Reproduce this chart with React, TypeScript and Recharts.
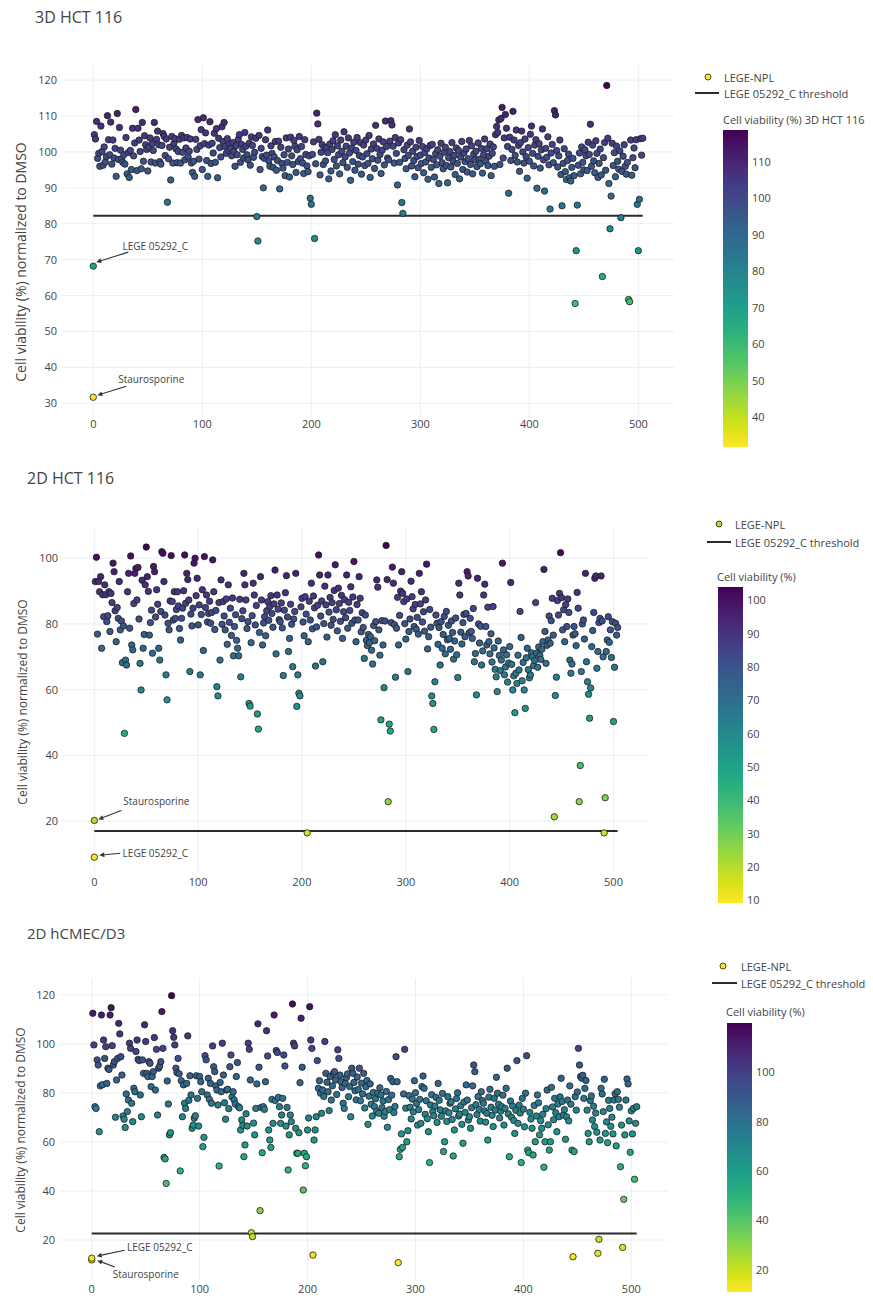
import React from 'react';
import { ScatterChart, Scatter, XAxis, YAxis, CartesianGrid, ReferenceLine, ReferenceDot } from 'recharts';

const FONT = '"Open Sans", "Noto Sans", sans-serif';
const TEXT = '#444';
const GRID = '#e9eef6';

const xTicks = [0, 100, 200, 300, 400, 500];
const yTicks3D = [30, 40, 50, 60, 70, 80, 90, 100, 110, 120];
const yTicks2D = [20, 40, 60, 80, 100];
const yTicksHC = [20, 40, 60, 80, 100, 120];
const cbTicks3D = [40, 50, 60, 70, 80, 90, 100, 110];
const cbTicks2D = [10, 20, 30, 40, 50, 60, 70, 80, 90, 100];
const cbTicksHC = [20, 40, 60, 80, 100];

// controls at compound index 0: [Staurosporine, LEGE 05292_C]
const controls3D = [31.7, 68.2];
const controls2D = [20.2, 9.0];
const controlsHC = [11.9, 12.6];

const threshold3D = 82.2;
const threshold2D = 17.0;
const thresholdHC = 22.7;

// compound values, x = 1..n
const viab3D = [
104.8,103.6,108.5,98.2,99.6,96.0,107.2,100.1,96.3,101.4,
97.2,98.7,110.1,103.4,99.2,108.3,96.6,103.3,98.3,101.0,
93.2,110.7,97.9,106.8,100.5,98.1,97.1,99.2,96.6,104.0,
93.9,99.8,92.9,100.4,95.1,106.6,98.9,102.5,111.8,94.8,
106.6,103.3,100.1,95.3,108.2,97.4,104.5,102.0,100.7,94.7,
101.3,103.9,97.2,102.3,100.4,108.2,96.9,103.5,105.8,102.0,
97.3,96.6,101.8,105.1,104.3,99.0,103.6,86.0,98.1,101.3,
92.2,104.3,96.9,102.4,103.7,100.8,97.0,100.1,103.5,96.9,
104.6,99.9,103.9,97.8,101.1,104.0,98.6,100.2,103.6,96.9,
94.3,97.4,93.2,103.5,100.7,109.0,98.0,101.7,106.2,95.1,
109.5,102.3,105.3,97.6,93.2,101.9,108.4,96.8,102.4,99.7,
105.2,97.1,106.5,92.8,103.8,101.2,98.6,107.0,102.9,108.2,
101.5,99.6,103.7,100.4,102.2,101.0,98.9,102.6,100.1,96.0,
101.7,99.2,103.5,104.8,97.1,102.1,100.7,98.3,105.4,101.6,
99.2,97.8,102.4,96.3,104.2,101.8,98.5,99.9,103.8,82.0,
75.2,104.6,95.1,101.0,98.7,90.0,98.2,103.4,99.1,106.1,
97.5,96.0,101.7,99.6,95.7,98.6,102.9,94.9,97.6,103.0,
89.7,101.3,96.8,95.5,99.2,93.4,103.9,97.1,100.8,93.0,
104.1,98.9,96.5,103.2,101.6,94.3,100.6,97.3,104.3,98.1,
101.5,96.9,94.0,103.4,99.3,96.1,94.5,98.9,87.1,85.4,
99.3,102.8,75.9,96.7,110.8,107.8,103.5,93.6,99.9,102.0,
96.5,101.3,97.5,101.1,99.8,92.5,102.2,94.7,100.7,103.1,
97.9,104.8,96.1,101.7,99.2,93.9,103.3,100.2,97.0,105.6,
98.6,101.6,95.7,103.9,99.7,92.1,101.1,97.3,102.7,94.9,
100.4,104.0,96.6,99.0,102.6,93.8,98.6,101.9,96.2,103.3,
99.5,96.8,104.6,92.9,100.8,98.1,102.2,95.4,107.4,101.0,
97.7,103.6,99.3,94.0,100.5,102.8,96.4,108.6,101.5,98.3,
97.8,103.0,108.7,107.5,101.6,96.9,104.0,99.6,90.8,102.5,
97.1,103.4,85.9,82.9,100.6,98.2,95.3,101.9,99.0,106.4,
102.8,96.1,100.2,97.6,93.1,101.3,98.7,95.6,103.2,99.1,
96.8,101.5,94.2,99.8,97.2,100.9,92.4,98.3,101.8,95.7,
102.1,97.9,93.0,99.5,96.4,100.6,91.2,98.8,102.4,97.0,
95.3,99.9,101.3,96.2,91.4,98.4,100.1,95.8,102.6,97.5,
99.0,93.7,101.1,96.8,100.4,92.5,98.6,102.9,95.1,99.7,
97.3,100.8,94.4,98.1,103.2,96.5,101.7,93.9,99.4,97.8,
100.2,95.9,102.5,98.0,96.7,101.0,94.1,99.2,103.6,97.4,
100.9,96.2,98.8,102.2,93.4,99.6,101.4,96.0,104.8,107.1,
105.4,108.9,96.5,109.3,112.4,98.3,103.9,110.4,106.6,101.5,
88.5,104.1,97.6,100.7,111.3,103.3,99.0,106.1,97.2,101.8,
94.6,102.6,105.8,100.0,96.9,103.6,98.7,92.7,101.2,97.4,
104.9,107.2,99.6,96.1,101.9,103.4,89.9,98.8,102.3,95.5,
100.6,106.4,97.8,89.1,101.0,98.5,104.2,96.4,84.1,99.7,
102.1,97.0,111.5,110.3,100.4,95.8,98.9,103.3,93.7,85.0,
96.8,100.9,94.5,92.3,97.6,99.4,92.8,91.9,95.7,98.2,
93.4,57.8,72.5,85.2,96.3,99.7,93.9,101.4,97.1,95.0,
100.6,98.9,94.8,102.7,99.3,107.7,96.0,101.9,97.5,94.2,
103.1,99.6,92.9,96.8,100.8,93.6,65.3,98.4,102.6,94.9,
118.5,103.8,91.2,78.6,87.7,102.4,96.2,99.8,93.1,101.6,
97.4,95.2,100.3,81.7,94.6,98.8,102.0,96.0,93.8,97.1,
58.9,58.3,103.3,93.5,98.4,101.1,95.6,103.4,85.4,72.5,
86.8,103.7,99.1,103.8,
];

const viab2D = [
92.9,100.3,76.9,92.9,89.8,94.4,72.6,88.9,82.2,91.9,
88.9,80.7,82.5,89.8,77.7,89.3,86.5,98.5,95.9,84.0,
74.6,85.0,81.7,92.9,78.2,80.9,68.2,79.4,46.7,69.0,
67.5,89.8,95.4,78.7,100.7,73.6,72.1,86.2,95.4,96.9,
87.3,97.2,81.5,68.0,59.9,93.3,72.6,76.8,91.9,103.4,
94.4,89.9,76.6,80.4,84.2,71.1,97.5,95.9,82.1,90.4,
86.0,72.6,69.0,83.8,102.0,101.5,92.9,82.7,64.5,56.9,
80.2,78.2,87.0,100.8,86.8,81.2,89.8,81.7,84.4,89.8,
85.5,78.6,75.1,81.7,84.8,90.1,101.0,86.3,95.4,93.5,
87.3,65.5,83.0,79.4,84.8,98.5,100.0,88.6,93.9,79.7,
85.8,64.5,82.9,90.4,71.9,100.5,85.0,88.8,80.6,83.2,
86.9,80.2,83.5,99.5,89.8,78.3,84.1,60.9,58.1,86.5,
69.0,93.4,79.9,86.8,82.4,78.2,87.6,73.8,91.9,80.5,
84.8,76.5,87.9,70.3,79.2,82.8,75.0,72.6,70.3,87.5,
63.9,81.6,84.0,95.4,91.9,87.3,78.6,80.7,55.8,55.0,
74.3,82.5,92.4,88.8,79.7,85.6,52.6,48.0,77.4,94.4,
87.3,73.6,80.3,82.2,76.4,84.0,86.8,81.1,85.3,88.6,
83.2,79.0,86.1,96.4,70.9,88.8,84.5,81.3,80.7,86.4,
78.8,64.3,84.2,89.5,94.7,82.1,71.6,75.6,86.0,79.9,
67.0,81.5,83.8,95.4,54.9,64.5,58.9,58.1,85.2,87.8,
80.6,76.4,88.3,83.0,16.4,74.6,86.9,81.2,92.4,78.5,
88.5,84.9,67.2,79.1,85.7,101.0,94.9,82.4,87.0,68.5,
80.1,91.5,85.8,76.0,94.9,83.6,88.1,79.6,86.5,81.4,
90.2,98.0,84.3,77.9,90.9,86.2,80.8,88.7,75.6,83.7,
87.4,81.9,94.9,78.7,86.6,84.1,91.3,80.2,88.2,99.0,
81.2,74.6,85.9,81.2,94.4,87.8,77.6,83.4,78.9,69.5,
82.7,75.0,73.4,76.8,74.3,76.1,72.0,67.8,79.5,74.9,
80.7,93.4,91.2,78.2,70.5,50.8,81.0,73.6,60.6,80.9,
103.9,93.5,25.9,49.5,47.4,80.4,97.3,92.4,79.8,63.8,
78.7,88.1,73.6,82.6,90.0,95.9,89.3,86.8,80.1,75.4,
87.6,65.5,77.7,81.5,93.0,88.3,84.6,79.2,85.9,78.4,
82.0,76.9,95.4,86.1,89.8,80.6,83.7,77.8,87.3,98.2,
72.4,76.1,84.4,79.0,58.1,55.8,47.9,62.4,82.7,80.2,
73.8,78.9,67.5,80.7,72.6,76.8,82.3,70.9,83.8,75.2,
79.6,75.6,72.3,80.9,77.4,69.3,74.8,81.8,70.6,63.7,
92.4,88.8,77.5,73.9,80.4,82.9,76.1,83.2,95.9,94.6,
77.3,81.7,77.7,75.6,84.7,68.5,71.0,58.4,93.9,80.0,
74.2,79.3,67.5,71.8,88.8,92.1,79.2,73.6,85.1,74.6,
70.9,77.0,68.4,85.3,72.7,66.2,63.9,59.4,74.8,70.4,
65.8,69.0,98.5,72.1,64.5,66.9,70.6,62.3,68.1,73.1,
92.6,67.7,59.9,64.2,53.0,65.0,61.9,70.5,66.0,83.8,
75.9,62.7,68.3,59.9,54.3,69.7,72.6,66.1,63.6,64.5,
71.2,70.0,67.3,68.9,86.5,71.1,66.8,73.0,70.4,69.2,
72.3,74.6,96.6,77.7,68.0,73.5,75.1,82.4,74.1,81.0,
87.8,76.6,21.3,58.2,63.8,87.1,82.7,89.3,101.7,88.0,
78.2,84.3,74.6,85.9,79.2,87.6,83.5,69.0,65.0,67.8,
76.6,79.2,77.0,73.4,89.6,84.8,25.9,36.9,65.5,80.0,
81.2,75.4,95.4,68.5,62.4,58.6,51.3,60.5,73.1,78.0,
83.5,93.9,94.6,66.5,71.6,80.4,81.7,94.6,80.9,70.0,
16.4,27.1,71.6,75.1,82.2,74.4,78.2,69.8,80.7,50.3,
66.8,80.2,76.6,78.9,
];

const viabHC = [
112.5,99.6,74.4,73.7,93.5,91.4,64.2,82.9,111.8,83.4,
101.6,94.1,98.9,83.9,90.1,89.6,111.8,114.8,99.3,91.4,
92.8,70.1,85.3,94.1,108.4,104.1,94.8,87.3,70.6,69.3,
65.9,79.6,72.4,77.1,100.3,98.2,75.8,68.3,81.9,80.5,
96.9,101.6,93.7,93.2,79.2,70.3,93.5,88.0,107.8,101.0,
88.0,86.7,92.8,92.1,82.6,86.7,88.7,102.6,81.2,97.8,
71.0,90.1,91.0,92.8,113.2,98.2,53.7,53.1,43.1,84.9,
75.5,62.9,63.8,119.7,105.4,102.7,99.6,90.1,88.3,94.1,
87.8,48.2,85.0,70.3,83.3,75.8,73.7,83.9,103.3,77.0,
87.0,79.2,65.6,66.9,69.7,70.7,87.0,77.8,66.5,86.7,
84.6,80.5,58.1,61.9,95.2,93.5,79.2,86.0,77.4,83.9,
75.8,99.2,90.7,88.7,82.9,81.2,75.1,50.2,84.3,80.5,
100.3,87.3,76.0,69.3,81.2,81.5,73.6,90.7,95.5,78.4,
80.5,77.1,75.5,86.7,92.4,74.4,73.9,64.9,69.0,66.8,
54.0,58.8,71.5,66.5,100.3,97.8,85.3,23.0,21.4,67.7,
62.9,73.7,83.7,108.2,90.5,32.0,74.1,55.6,74.4,73.3,
84.6,105.4,95.1,64.9,60.8,57.8,77.4,67.6,111.8,76.9,
97.3,96.5,78.2,74.4,67.6,71.0,77.8,95.5,91.0,66.5,
74.1,48.6,62.9,71.0,68.3,116.3,100.3,99.2,65.6,55.4,
55.4,63.8,84.2,110.5,90.5,40.4,55.4,50.3,54.0,64.9,
69.8,115.2,101.6,98.2,13.9,60.8,64.9,70.3,93.2,81.9,
85.0,79.9,71.7,81.2,78.6,101.0,88.0,84.4,80.5,72.8,
86.7,77.1,82.9,88.0,88.7,85.3,79.4,97.6,94.1,87.3,
84.6,82.2,75.8,73.7,83.9,86.3,87.8,78.5,82.6,70.3,
90.1,88.0,84.3,80.9,77.2,86.5,81.4,90.1,76.8,84.0,
79.6,88.0,73.9,82.5,85.1,67.2,78.7,83.7,75.4,70.6,
80.2,74.4,77.6,72.5,79.9,71.7,82.1,79.2,74.0,76.7,
70.5,72.4,80.6,66.0,77.3,73.2,85.9,79.1,84.6,72.0,
74.5,94.8,84.6,10.8,54.0,57.0,63.3,57.8,79.6,97.8,
73.8,60.1,64.6,78.9,74.2,69.4,77.5,72.3,85.0,80.1,
75.7,66.9,73.2,77.4,67.6,82.6,86.9,81.9,71.3,76.8,
69.5,64.2,51.6,75.1,79.3,72.4,70.7,74.6,78.2,68.0,
83.9,77.0,73.1,70.5,79.8,56.1,60.1,72.7,68.4,78.5,
71.9,75.8,76.4,69.2,54.3,64.9,73.5,77.7,80.1,70.6,
71.4,74.8,67.2,59.5,76.3,72.1,83.3,77.1,69.0,70.3,
65.6,74.0,82.9,91.4,88.7,75.2,71.2,78.5,73.3,68.5,
80.5,76.9,75.8,72.7,68.1,71.7,60.8,78.3,81.5,74.2,
70.9,66.3,77.8,73.0,86.4,79.9,75.4,69.8,72.6,74.4,
79.1,66.9,73.7,81.9,90.1,71.5,54.0,76.7,70.1,74.7,
68.8,63.5,72.9,93.2,67.6,75.0,71.8,51.6,77.8,73.4,
66.2,79.9,95.2,56.7,55.6,72.1,69.4,65.6,54.7,74.9,
60.1,70.6,79.2,76.0,62.9,68.7,65.6,71.3,49.7,60.1,
73.6,81.2,67.0,56.7,60.1,82.3,74.3,69.1,77.8,71.9,
64.2,75.5,70.3,78.4,86.0,76.5,71.0,73.2,61.1,70.3,
77.1,68.6,82.9,75.4,56.7,13.2,56.1,78.5,73.0,80.4,
98.2,91.4,86.7,86.0,87.2,77.8,81.9,85.1,73.0,63.5,
60.1,76.9,78.8,69.0,74.6,66.3,71.8,64.0,14.6,20.3,
60.8,81.9,79.6,72.4,85.6,63.5,68.2,59.7,77.0,73.7,
66.4,70.1,63.3,77.1,79.7,58.4,80.5,77.4,74.2,49.9,
66.9,17.0,36.6,62.9,77.1,85.7,83.7,68.6,55.8,72.7,
63.3,73.7,44.8,67.6,74.4,
];

const VIRIDIS = ['#440154', '#48186a', '#472d7b', '#424086', '#3b528b', '#33638d', '#2c728e', '#26828e', '#21918c', '#1fa088', '#28ae80', '#3fbc73', '#5ec962', '#84d44b', '#addc30', '#d8e219', '#fde725'];

function hexToRgb(h: string) {
  return [parseInt(h.slice(1, 3), 16), parseInt(h.slice(3, 5), 16), parseInt(h.slice(5, 7), 16)];
}
function viridisAt(t: number) {
  const c = Math.max(0, Math.min(1, t));
  const pos = c * (VIRIDIS.length - 1);
  const i = Math.min(VIRIDIS.length - 2, Math.floor(pos));
  const f = pos - i;
  const a = hexToRgb(VIRIDIS[i]);
  const b = hexToRgb(VIRIDIS[i + 1]);
  const m = a.map((v, k) => Math.round(v + (b[k] - v) * f));
  return `rgb(${m[0]},${m[1]},${m[2]})`;
}

type Ann = { y: number; label: string; tail: [number, number]; tip: [number, number]; text: [number, number] };

type PanelCfg = {
  svgTop: number;
  height: number;
  plotLeft: number;
  plotRight: number;
  plotTop: number;
  plotBottom: number;
  xDomain: [number, number];
  yDomain: [number, number];
  yTicks: number[];
  values: number[];
  controls: number[];
  threshold: number;
  thrEnd: number;
  anns: Ann[];
  tickTop: number;
};

const SVG_W = 690;

function buildPoints(controls: number[], values: number[]) {
  return controls.map((y) => ({ x: 0, y })).concat(values.map((y, i) => ({ x: i + 1, y })));
}

function rangeOf(cfg: { controls: number[]; values: number[] }) {
  const all = cfg.controls.concat(cfg.values);
  return [Math.min(...all), Math.max(...all)];
}

const makeAnnShape = (a: Ann) => (props: any) => {
  const { cx, cy } = props;
  if (cx == null || cy == null) return <g />;
  const tx = cx + a.tail[0];
  const ty = cy + a.tail[1];
  const hx = cx + a.tip[0];
  const hy = cy + a.tip[1];
  const ang = Math.atan2(hy - ty, hx - tx);
  const L = 5;
  const W = 2.4;
  const bx = hx - L * Math.cos(ang);
  const by = hy - L * Math.sin(ang);
  const p1 = `${hx},${hy}`;
  const p2 = `${bx - W * Math.sin(ang)},${by + W * Math.cos(ang)}`;
  const p3 = `${bx + W * Math.sin(ang)},${by - W * Math.cos(ang)}`;
  return (
    <g>
      <line x1={tx} y1={ty} x2={bx} y2={by} stroke="#333" strokeWidth={1.1} />
      <polygon points={`${p1} ${p2} ${p3}`} fill="#333" />
      <text x={cx + a.text[0]} y={cy + a.text[1]} textAnchor="middle" dominantBaseline="central" fontSize={10} fontFamily={FONT} fill={TEXT}>
        {a.label}
      </text>
    </g>
  );
};

function Panel({ cfg }: { cfg: PanelCfg }) {
  const pts = buildPoints(cfg.controls, cfg.values);
  const [mn, mx] = rangeOf(cfg);
  const color = (v: number) => viridisAt(1 - (v - mn) / (mx - mn));
  const pointShape = (p: any) => {
    const v = p.payload ? p.payload.y : mn;
    return <circle cx={p.cx} cy={p.cy} r={3.2} fill={color(v)} stroke="#1e1e1e" strokeWidth={0.8} />;
  };
  const top = cfg.plotTop - cfg.svgTop;
  const ph = cfg.plotBottom - cfg.plotTop;
  const pw = cfg.plotRight - cfg.plotLeft;
  const [y0, y1] = cfg.yDomain;
  const [x0, x1] = cfg.xDomain;
  const hPts = cfg.yTicks.map((t) => top + ((y1 - t) / (y1 - y0)) * ph);
  const vPts = xTicks.map((t) => cfg.plotLeft + ((t - x0) / (x1 - x0)) * pw);
  const near = (v: number, list: number[]) => list.some((q) => Math.abs(q - v) < 0.75);
  const hLine = (p: any) =>
    near(p.y1, hPts) ? <line key={p.key} x1={p.x1} y1={p.y1} x2={p.x2} y2={p.y2} stroke={GRID} strokeWidth={1} /> : <g key={p.key} />;
  const vLine = (p: any) =>
    near(p.x1, vPts) ? <line key={p.key} x1={p.x1} y1={p.y1} x2={p.x2} y2={p.y2} stroke={GRID} strokeWidth={1} /> : <g key={p.key} />;
  return (
    <div style={{ position: 'absolute', left: 0, top: cfg.svgTop }}>
      <ScatterChart
        width={SVG_W}
        height={cfg.height}
        margin={{ top, right: SVG_W - cfg.plotRight, bottom: 0, left: 0 }}
      >
        <CartesianGrid
          stroke={GRID}
          strokeWidth={1}
          horizontalPoints={hPts}
          verticalPoints={vPts}
          horizontal={hLine}
          vertical={vLine}
        />
        <XAxis
          type="number"
          dataKey="x"
          domain={cfg.xDomain}
          ticks={xTicks}
          allowDataOverflow
          axisLine={false}
          tickLine={false}
          tickSize={0}
          tickMargin={cfg.tickTop}
          height={cfg.svgTop + cfg.height - cfg.plotBottom}
          tick={{ fontSize: 11, fill: TEXT, fontFamily: FONT }}
        />
        <YAxis
          type="number"
          dataKey="y"
          domain={cfg.yDomain}
          ticks={cfg.yTicks}
          allowDataOverflow
          axisLine={false}
          tickLine={false}
          tickSize={0}
          tickMargin={5}
          width={cfg.plotLeft}
          tick={{ fontSize: 11, fill: TEXT, fontFamily: FONT }}
        />
        <ReferenceLine
          segment={[{ x: 0, y: cfg.threshold }, { x: cfg.thrEnd, y: cfg.threshold }]}
          stroke="#2b2b2b"
          strokeWidth={2}
          ifOverflow="visible"
        />
        {cfg.anns.map((a, i) => (
          <ReferenceDot key={i} x={0} y={a.y} r={0} ifOverflow="visible" shape={makeAnnShape(a)} />
        ))}
        <Scatter data={pts} isAnimationActive={false} shape={pointShape} />
      </ScatterChart>
    </div>
  );
}

const panel3D: PanelCfg = {
  svgTop: 0, height: 440, plotLeft: 62, plotRight: 674, plotTop: 65, plotBottom: 417,
  xDomain: [-28.7, 532.7], yDomain: [26.2, 124.2], yTicks: yTicks3D,
  values: viab3D, controls: controls3D, threshold: threshold3D, thrEnd: 504, tickTop: 3,
  anns: [
    { y: controls3D[1], label: 'LEGE 05292_C', tail: [35, -14], tip: [3, -4], text: [62, -20] },
    { y: controls3D[0], label: 'Staurosporine', tail: [33, -11], tip: [4, -2], text: [58, -18] },
  ],
};
const panel2D: PanelCfg = {
  svgTop: 460, height: 440, plotLeft: 63, plotRight: 649, plotTop: 528, plotBottom: 872,
  xDomain: [-30.2, 534.2], yDomain: [4.5, 109.2], yTicks: yTicks2D,
  values: viab2D, controls: controls2D, threshold: threshold2D, thrEnd: 504, tickTop: 6,
  anns: [
    { y: controls2D[0], label: 'Staurosporine', tail: [27, -10], tip: [4, -1], text: [62, -19] },
    { y: controls2D[1], label: 'LEGE 05292_C', tail: [26, -4], tip: [5, -2], text: [61, -4] },
  ],
};
const panelHC: PanelCfg = {
  svgTop: 920, height: 379, plotLeft: 60, plotRight: 668, plotTop: 978, plotBottom: 1280,
  xDomain: [-29.4, 534], yDomain: [3.7, 126.9], yTicks: yTicksHC,
  values: viabHC, controls: controlsHC, threshold: thresholdHC, thrEnd: 505, tickTop: 5,
  anns: [
    { y: controlsHC[1], label: 'LEGE 05292_C', tail: [33, -8], tip: [5, -2], text: [68, -11] },
    { y: controlsHC[0], label: 'Staurosporine', tail: [23, 7], tip: [5.5, 0.5], text: [54, 14.5] },
  ],
};

type SideCfg = {
  cfg: PanelCfg;
  marker: [number, number];
  legendText: number;
  line: [number, number, number];
  cbTitle: string;
  cbTitlePos: [number, number];
  bar: [number, number, number, number]; // x, y, w, h
  cbTicks: number[];
  gid: string;
};

const sides: SideCfg[] = [
  { cfg: panel3D, marker: [708, 77], legendText: 724, line: [695, 719, 93], cbTitle: 'Cell viability (%) 3D HCT 116', cbTitlePos: [723, 119], bar: [723, 130, 25, 317], cbTicks: cbTicks3D, gid: 'g1' },
  { cfg: panel2D, marker: [719, 524], legendText: 735, line: [707, 731, 542], cbTitle: 'Cell viability (%)', cbTitlePos: [717, 576], bar: [718, 587, 25, 316], cbTicks: cbTicks2D, gid: 'g2' },
  { cfg: panelHC, marker: [723, 966], legendText: 741, line: [712, 737, 983], cbTitle: 'Cell viability (%)', cbTitlePos: [726, 1011], bar: [727, 1023, 25, 269], cbTicks: cbTicksHC, gid: 'g3' },
];

function Overlay() {
  const yTitle = 'Cell viability (%) normalized to DMSO';
  return (
    <svg width={873} height={1299} style={{ position: 'absolute', left: 0, top: 0, pointerEvents: 'none' }} fontFamily={FONT}>
      <defs>
        {sides.map((s) => (
          <linearGradient key={s.gid} id={s.gid} x1="0" y1="0" x2="0" y2="1">
            {VIRIDIS.map((c, i) => (
              <stop key={i} offset={i / (VIRIDIS.length - 1)} stopColor={c} />
            ))}
          </linearGradient>
        ))}
      </defs>
      <text x={35} y={17} dominantBaseline="central" fontSize={16} fill={TEXT}>3D HCT 116</text>
      <text x={27} y={478} dominantBaseline="central" fontSize={16} fill={TEXT}>2D HCT 116</text>
      <text x={27} y={933} dominantBaseline="central" fontSize={15} fill={TEXT}>2D hCMEC/D3</text>

      <text x={20} y={262} transform="rotate(-90,20,262)" textAnchor="middle" dominantBaseline="central" fontSize={14} fill={TEXT}>{yTitle}</text>
      <text x={22} y={702} transform="rotate(-90,22,702)" textAnchor="middle" dominantBaseline="central" fontSize={12} fill={TEXT}>{yTitle}</text>
      <text x={20} y={1130} transform="rotate(-90,20,1130)" textAnchor="middle" dominantBaseline="central" fontSize={12} fill={TEXT}>{yTitle}</text>

      {sides.map((s) => {
        const [mn, mx] = rangeOf(s.cfg);
        const first = s.cfg.controls[0];
        const fc = viridisAt(1 - (first - mn) / (mx - mn));
        const [bx, by, bw, bh] = s.bar;
        return (
          <g key={s.gid}>
            <circle cx={s.marker[0]} cy={s.marker[1]} r={3} fill={fc} stroke="#1e1e1e" strokeWidth={0.8} />
            <text x={s.legendText} y={s.marker[1]} dominantBaseline="central" fontSize={11} fill={TEXT}>LEGE-NPL</text>
            <line x1={s.line[0]} x2={s.line[1]} y1={s.line[2]} y2={s.line[2]} stroke="#2b2b2b" strokeWidth={2} />
            <text x={s.legendText} y={s.line[2]} dominantBaseline="central" fontSize={11} fill={TEXT}>LEGE 05292_C threshold</text>
            <text x={s.cbTitlePos[0]} y={s.cbTitlePos[1]} dominantBaseline="central" fontSize={11} fill={TEXT}>{s.cbTitle}</text>
            <rect x={bx} y={by} width={bw} height={bh} fill={`url(#${s.gid})`} />
            {s.cbTicks.map((t) => {
              const ty = by + bh * (mx - t) / (mx - mn);
              return (
                <text key={t} x={bx + bw + 4} y={ty} dominantBaseline="central" fontSize={11} fill={TEXT}>{t}</text>
              );
            })}
          </g>
        );
      })}
    </svg>
  );
}

export default function App() {
  return (
    <div style={{ position: 'absolute', left: 0, top: 0, width: 873, height: 1299, background: '#fff', overflow: 'hidden' }}>
      <Panel cfg={panel3D} />
      <Panel cfg={panel2D} />
      <Panel cfg={panelHC} />
      <Overlay />
    </div>
  );
}
